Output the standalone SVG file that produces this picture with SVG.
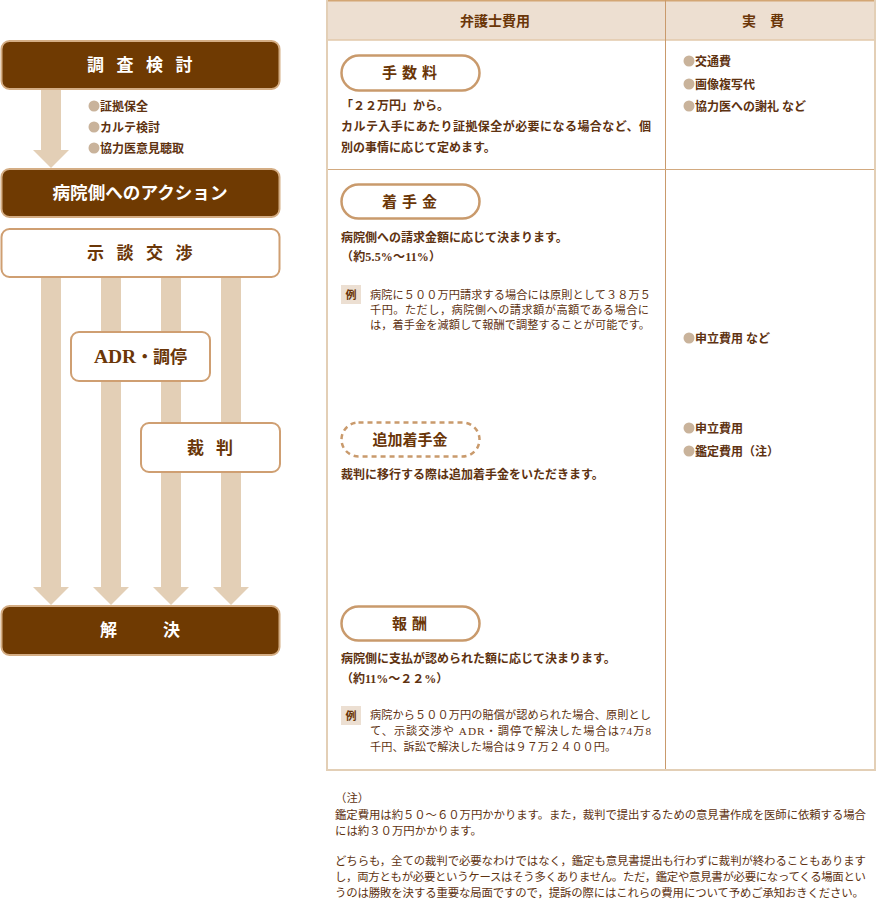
<svg xmlns="http://www.w3.org/2000/svg" width="876" height="900" viewBox="0 0 876 900">
<style>
text{font-family:'Liberation Serif','Noto Sans CJK JP',serif;fill:#5e3210}
.dark rect{fill:#6f3a02;stroke:#d4ad84;stroke-width:2}
.light rect{fill:#fff;stroke:#cf9f72;stroke-width:2}
.dt{fill:#fff;font-size:17px;font-weight:bold;text-anchor:middle}
.lt{fill:#6a3608;font-size:17px;font-weight:bold;text-anchor:middle}
.arr{fill:#e3cfb6}
.dot{fill:#c9b39b}
.bl{font-size:12px;font-weight:bold}
.body{font-size:12px;font-weight:bold}
.ex{font-size:11.2px;fill:#5e3210}
.pill{fill:#fff;stroke:#c99a6c;stroke-width:2.5}
.pt{font-size:15px;font-weight:bold;text-anchor:middle;fill:#6a3608}
.hd{font-size:14px;font-weight:bold;text-anchor:middle;fill:#6a3608}
.exb{fill:#ecdfd2}
.exl{font-size:11px;font-weight:bold;text-anchor:middle;fill:#6a3608}
.fn{font-size:11.4px}
</style>

<g id="connectors">
<polygon class="arr" points="41,89 61,89 61,150 69,150 51,168 33,150 41,150"/>
<polygon class="arr" points="41,277 61,277 61,587 69,587 51,605 33,587 41,587"/>
<polygon class="arr" points="101,277 121,277 121,587 129,587 111,605 93,587 101,587"/>
<polygon class="arr" points="161,277 181,277 181,587 189,587 171,605 153,587 161,587"/>
<polygon class="arr" points="221,277 241,277 241,587 249,587 231,605 213,587 221,587"/>
</g>

<g id="node-chosa" class="dark">
<rect x="1.5" y="41" width="278" height="48" rx="8"/>
<text class="dt" x="146" y="71" letter-spacing="12.5">調査検討</text>
</g>
<g id="chosa-items">
<circle class="dot" cx="94" cy="106" r="5.5"/><text class="bl" x="100" y="111">証拠保全</text>
<circle class="dot" cx="94" cy="127" r="5.5"/><text class="bl" x="100" y="132">カルテ検討</text>
<circle class="dot" cx="94" cy="148" r="5.5"/><text class="bl" x="100" y="153">協力医意見聴取</text>
</g>
<g id="node-action" class="dark">
<rect x="1.5" y="169" width="278" height="48" rx="8"/>
<text class="dt" x="140" y="199" style="font-size:17.6px">病院側へのアクション</text>
</g>
<g id="node-jidan" class="light">
<rect x="1.5" y="229" width="278" height="48" rx="8"/>
<text class="lt" x="146" y="259" letter-spacing="12.5">示談交渉</text>
</g>
<g id="node-adr" class="light">
<rect x="71" y="332" width="139" height="49" rx="8"/>
<text class="lt" x="140.5" y="363"><tspan style="font-size:19.5px">ADR</tspan>・調停</text>
</g>
<g id="node-saiban" class="light">
<rect x="141" y="423" width="139" height="49" rx="8"/>
<text class="lt" x="216" y="454" letter-spacing="12">裁判</text>
</g>
<g id="node-kaiketsu" class="dark">
<rect x="1.5" y="606" width="278" height="49" rx="8"/>
<text class="dt" x="163" y="636" letter-spacing="46">解決</text>
</g>

<g id="table">
<rect x="326" y="0" width="549" height="40" fill="#eddfd1"/>
<line x1="326" y1="0.75" x2="876" y2="0.75" stroke="#d3a674" stroke-width="1.5"/>
<line x1="326" y1="40" x2="875" y2="40" stroke="#e2c8aa" stroke-width="1.5"/>
<line x1="327" y1="0" x2="327" y2="771" stroke="#e3cfb6" stroke-width="2"/>
<line x1="875" y1="0" x2="875" y2="771" stroke="#e3cfb6" stroke-width="2"/>
<line x1="326" y1="770" x2="876" y2="770" stroke="#e3cfb6" stroke-width="2"/>
<line x1="665.5" y1="0" x2="665.5" y2="769" stroke="#c99a6c" stroke-width="1"/>
<line x1="328" y1="169.5" x2="874" y2="169.5" stroke="#d2aa80" stroke-width="1"/>
<text class="hd" x="495" y="26">弁護士費用</text>
<text class="hd" x="770" y="26" letter-spacing="14">実費</text>
</g>

<g id="fee-tesuryo">
<rect class="pill" x="341.5" y="55.5" width="138" height="35" rx="17.5"/>
<text class="pt" x="412" y="78" letter-spacing="5">手数料</text>
<text class="body" x="341" y="110">「２２万円」から。</text>
<text class="body" x="341" y="131" textLength="310" lengthAdjust="spacing">カルテ入手にあたり証拠保全が必要になる場合など、個</text>
<text class="body" x="341" y="152">別の事情に応じて定めます。</text>
</g>

<g id="fee-chakushu">
<rect class="pill" x="341.5" y="184.5" width="138" height="34" rx="17"/>
<text class="pt" x="412" y="207" letter-spacing="5">着手金</text>
<text class="body" x="341" y="242">病院側への請求金額に応じて決まります。</text>
<text class="body" x="341" y="261" textLength="100" lengthAdjust="spacing">（約5.5%～11%）</text>
<rect class="exb" x="341" y="285" width="20" height="19"/>
<text class="exl" x="351" y="299">例</text>
<text class="ex" x="370" y="299" textLength="281" lengthAdjust="spacing">病院に５００万円請求する場合には原則として３８万５</text>
<text class="ex" x="370" y="314" textLength="279" lengthAdjust="spacing">千円。ただし，病院側への請求額が高額である場合に</text>
<text class="ex" x="370" y="329" textLength="280" lengthAdjust="spacing">は，着手金を減額して報酬で調整することが可能です。</text>
</g>

<g id="fee-tsuika">
<rect x="341.5" y="422.5" width="138" height="34" rx="17" fill="#fff" stroke="#c99a6c" stroke-width="2.5" stroke-dasharray="5,4"/>
<text class="pt" x="410" y="445">追加着手金</text>
<text class="body" x="341" y="479">裁判に移行する際は追加着手金をいただきます。</text>
</g>

<g id="fee-hoshu">
<rect class="pill" x="341.5" y="606.5" width="138" height="34" rx="17"/>
<text class="pt" x="412" y="629" letter-spacing="5">報酬</text>
<text class="body" x="341" y="663">病院側に支払が認められた額に応じて決まります。</text>
<text class="body" x="341" y="683">（約11%～２２%）</text>
<rect class="exb" x="341" y="706" width="20" height="19"/>
<text class="exl" x="351" y="720">例</text>
<text class="ex" x="370" y="719" textLength="281" lengthAdjust="spacing">病院から５００万円の賠償が認められた場合、原則とし</text>
<text class="ex" x="370" y="735" textLength="281" lengthAdjust="spacing">て、示談交渉や ADR・調停で解決した場合は74万8</text>
<text class="ex" x="370" y="751">千円、訴訟で解決した場合は９７万２４００円。</text>
</g>

<g id="jippi">
<circle class="dot" cx="689" cy="61" r="5.5"/><text class="bl" x="695" y="66">交通費</text>
<circle class="dot" cx="689" cy="84" r="5.5"/><text class="bl" x="695" y="89">画像複写代</text>
<circle class="dot" cx="689" cy="106" r="5.5"/><text class="bl" x="695" y="111">協力医への謝礼 など</text>
<circle class="dot" cx="689" cy="338" r="5.5"/><text class="bl" x="695" y="343">申立費用 など</text>
<circle class="dot" cx="689" cy="428" r="5.5"/><text class="bl" x="695" y="433">申立費用</text>
<circle class="dot" cx="689" cy="451" r="5.5"/><text class="bl" x="695" y="456">鑑定費用（注）</text>
</g>

<g id="footnote">
<text class="fn" x="335" y="802">（注）</text>
<text class="fn" x="335" y="819" textLength="531" lengthAdjust="spacing">鑑定費用は約５０～６０万円かかります。また，裁判で提出するための意見書作成を医師に依頼する場合</text>
<text class="fn" x="335" y="835">には約３０万円かかります。</text>
<text class="fn" x="335" y="865" textLength="531" lengthAdjust="spacing">どちらも，全ての裁判で必要なわけではなく，鑑定も意見書提出も行わずに裁判が終わることもあります</text>
<text class="fn" x="335" y="881" textLength="531" lengthAdjust="spacing">し，両方ともが必要というケースはそう多くありません。ただ，鑑定や意見書が必要になってくる場面とい</text>
<text class="fn" x="335" y="897" textLength="529" lengthAdjust="spacing">うのは勝敗を決する重要な局面ですので，提訴の際にはこれらの費用について予めご承知おきください。</text>
</g>
</svg>
